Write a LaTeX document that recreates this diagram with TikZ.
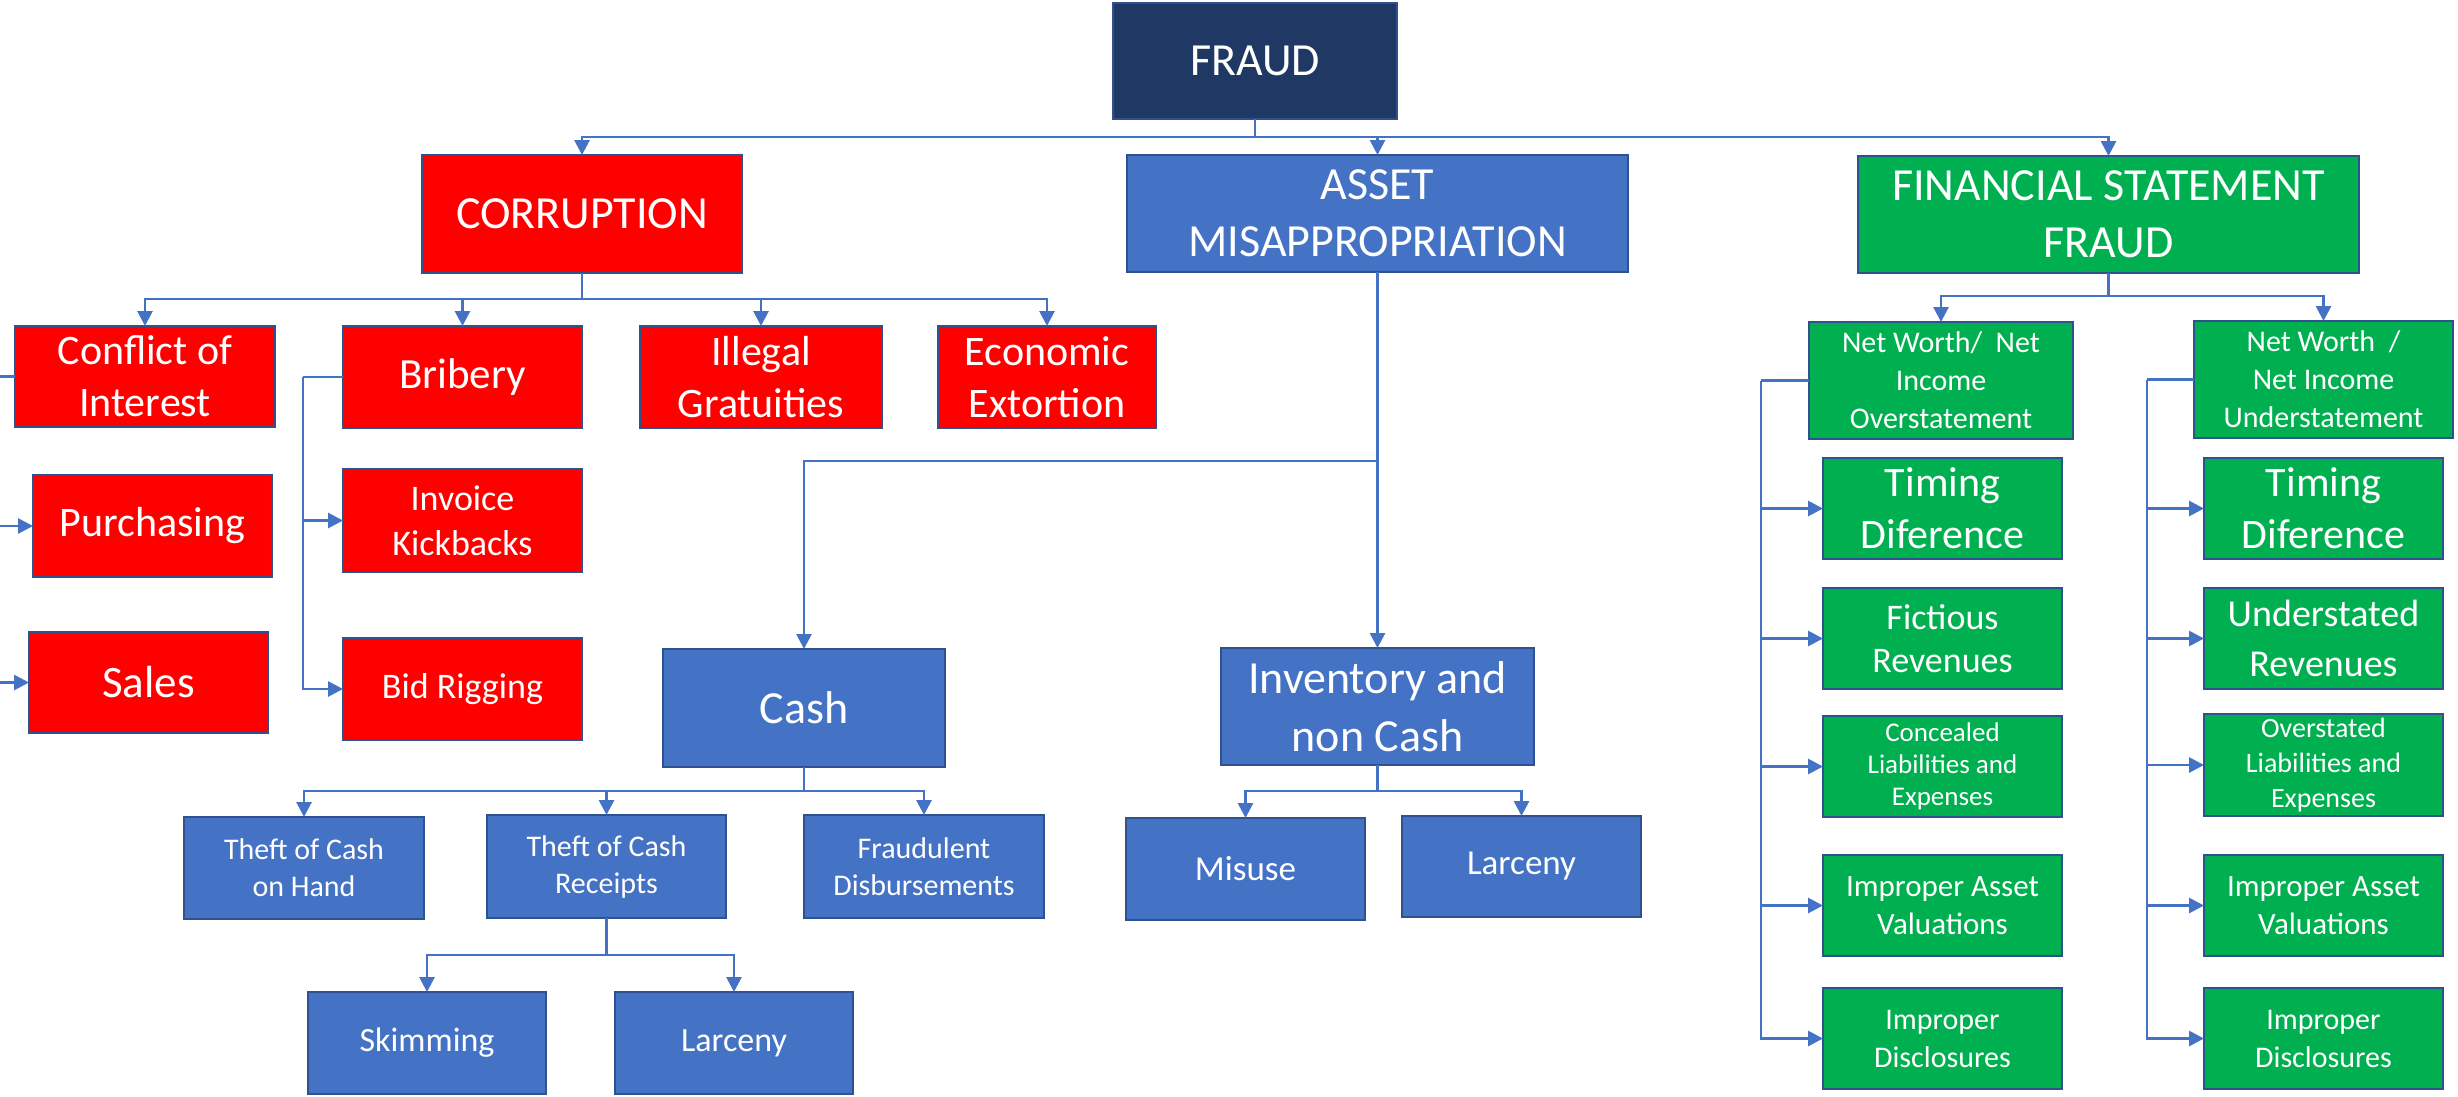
\documentclass[tikz,border=0pt]{standalone}
\usepackage{fontspec}
\setmainfont{Carlito}
\usetikzlibrary{arrows.meta}
\definecolor{navy}{HTML}{203864}
\definecolor{cred}{HTML}{FF0000}
\definecolor{cblue}{HTML}{4472C4}
\definecolor{cgreen}{HTML}{00B050}
\definecolor{bord}{HTML}{2F528F}
\definecolor{lineblue}{HTML}{4472C4}
\newcommand\fs[2]{\fontsize{#1}{#2}\selectfont}
\tikzset{
  box/.style={draw=bord, line width=2.6pt, text=white, align=center, inner sep=0pt, outer sep=0pt},
  redbox/.style={box, fill=cred},
  bluebox/.style={box, fill=cblue},
  greenbox/.style={box, fill=cgreen},
  navybox/.style={box, fill=navy},
  conn/.style={draw=lineblue, line width=2.8pt},
  arr/.style={conn, -{Triangle[width=15pt,length=15pt]}},
}
\begin{document}
\begin{tikzpicture}[x=1pt,y=-1pt]
\useasboundingbox (0,0) rectangle (2458,1096);

% top levels
\node[navybox, minimum width=284pt, minimum height=116pt, font=\fs{46}{56}] (fraud) at (1255,61) {FRAUD};
\node[redbox, minimum width=320pt, minimum height=118pt, font=\fs{46}{56}] (corr) at (582,214) {CORRUPTION};
\node[bluebox, minimum width=501pt, minimum height=117pt, font=\fs{46}{57}] (am) at (1377.5,213.5) {ASSET\\MISAPPROPRIATION};
\node[greenbox, minimum width=501pt, minimum height=117pt, font=\fs{46}{57}] (fsf) at (2108.5,214.5) {FINANCIAL STATEMENT\\FRAUD};

% corruption branch
\node[redbox, minimum width=260pt, minimum height=101pt, font=\fs{42}{52}] (coi) at (145,376.5) {Conflict of\\Interest};
\node[redbox, minimum width=239pt, minimum height=102pt, font=\fs{43}{52}] (bri) at (462.5,377) {Bribery};
\node[redbox, minimum width=242pt, minimum height=102pt, font=\fs{42}{52}] (ill) at (761,377) {Illegal\\Gratuities};
\node[redbox, minimum width=218pt, minimum height=102pt, font=\fs{42}{52}] (eco) at (1047,377) {Economic\\Extortion};
\node[redbox, minimum width=239pt, minimum height=102pt, font=\fs{42}{52}] (pur) at (152.5,526) {Purchasing};
\node[redbox, minimum width=239pt, minimum height=101pt, font=\fs{45}{52}] (sal) at (148.5,682.5) {Sales};
\node[redbox, minimum width=239pt, minimum height=103pt, font=\fs{36}{45}] (ikb) at (462.5,520.5) {Invoice\\Kickbacks};
\node[redbox, minimum width=239pt, minimum height=102pt, font=\fs{36}{45}] (bid) at (462.5,689) {Bid Rigging};

% asset misappropriation branch
\node[bluebox, minimum width=282pt, minimum height=118pt, font=\fs{46}{57}] (cash) at (804,708) {Cash};
\node[bluebox, minimum width=313pt, minimum height=117pt, font=\fs{46}{58}] (inc) at (1377.5,706.5) {Inventory and\\non Cash};
\node[bluebox, minimum width=240pt, minimum height=102pt, font=\fs{30}{37}] (toh) at (304,868) {Theft of Cash\\on Hand};
\node[bluebox, minimum width=239pt, minimum height=103pt, font=\fs{30}{37}] (tcr) at (606.5,866.5) {Theft of Cash\\Receipts};
\node[bluebox, minimum width=240pt, minimum height=103pt, font=\fs{30}{37}] (fd) at (924,866.5) {Fraudulent\\Disbursements};
\node[bluebox, minimum width=238pt, minimum height=102pt, font=\fs{34}{42}] (ski) at (427,1043) {Skimming};
\node[bluebox, minimum width=238pt, minimum height=102pt, font=\fs{34}{42}] (lar) at (734,1043) {Larceny};
\node[bluebox, minimum width=239pt, minimum height=102pt, font=\fs{35}{42}] (mis) at (1245.5,869) {Misuse};
\node[bluebox, minimum width=239pt, minimum height=101pt, font=\fs{35}{42}] (lar2) at (1521.5,866.5) {Larceny};

% financial statement fraud branch
\node[greenbox, minimum width=264pt, minimum height=117pt, font=\fs{30}{38}] (nwo) at (1941,380.5) {Net Worth/\ \ Net\\Income\\Overstatement};
\node[greenbox, minimum width=259pt, minimum height=117pt, font=\fs{30}{38}] (nwu) at (2323.5,379.5) {Net Worth\ \ /\\Net Income\\Understatement};

\node[greenbox, minimum width=239pt, minimum height=101pt, font=\fs{42}{52}] (tdl) at (1942.5,508.5) {Timing\\Diference};
\node[greenbox, minimum width=239pt, minimum height=101pt, font=\fs{36}{43}] (fic) at (1942.5,638.5) {Fictious\\Revenues};
\node[greenbox, minimum width=239pt, minimum height=101pt, font=\fs{27}{32}] (con) at (1942.5,766.5) {Concealed\\Liabilities and\\Expenses};
\node[greenbox, minimum width=239pt, minimum height=101pt, font=\fs{31}{38}] (iav) at (1942.5,905.5) {Improper Asset\\Valuations};
\node[greenbox, minimum width=239pt, minimum height=101pt, font=\fs{30}{38}] (idl) at (1942.5,1038.5) {Improper\\Disclosures};

\node[greenbox, minimum width=239pt, minimum height=101pt, font=\fs{42}{52}] (tdr) at (2323.5,508.5) {Timing\\Diference};
\node[greenbox, minimum width=239pt, minimum height=101pt, font=\fs{38}{50}] (und) at (2323.5,638.5) {Understated\\Revenues};
\node[greenbox, minimum width=239pt, minimum height=102pt, font=\fs{28}{35}] (ove) at (2323.5,765) {Overstated\\Liabilities and\\Expenses};
\node[greenbox, minimum width=239pt, minimum height=101pt, font=\fs{31}{38}] (iar) at (2323.5,905.5) {Improper Asset\\Valuations};
\node[greenbox, minimum width=239pt, minimum height=101pt, font=\fs{30}{38}] (idr) at (2323.5,1038.5) {Improper\\Disclosures};

% junction coordinates
\coordinate (fb) at (1255,137);
\coordinate (cb) at (582,299);
\coordinate (brv) at (303,377);
\coordinate (ab) at (1377.5,461);
\coordinate (cab) at (804,791);
\coordinate (rb) at (606.5,955);
\coordinate (ib) at (1377.5,791);
\coordinate (fsb) at (2108.5,296);
\coordinate (v1) at (1761,380.5);
\coordinate (v2) at (2147,379.5);
\coordinate (e1) at (0,376.5);
\coordinate (e2) at (0,526);
\coordinate (e3) at (0,682.5);

% connectors
\draw[conn] (fraud.south) -- (fb);
\draw[arr] (fb) -| (corr.north);
\draw[arr] (fb) -| (am.north);
\draw[arr] (fb) -| (fsf.north);

\draw[conn] (corr.south) -- (cb);
\draw[arr] (cb) -| (coi.north);
\draw[arr] (cb) -| (bri.north);
\draw[arr] (cb) -| (ill.north);
\draw[arr] (cb) -| (eco.north);

\draw[conn] (bri.west) -- (brv);
\draw[arr] (brv) |- (ikb.west);
\draw[arr] (brv) |- (bid.west);

\draw[conn] (coi.west) -- (e1);
\draw[arr] (e2) -- (pur.west);
\draw[arr] (e3) -- (sal.west);

\draw[arr] (am.south) -- (inc.north);
\draw[arr] (ab) -| (cash.north);

\draw[conn] (cash.south) -- (cab);
\draw[arr] (cab) -| (toh.north);
\draw[arr] (cab) -| (tcr.north);
\draw[arr] (cab) -| (fd.north);

\draw[conn] (tcr.south) -- (rb);
\draw[arr] (rb) -| (ski.north);
\draw[arr] (rb) -| (lar.north);

\draw[conn] (inc.south) -- (ib);
\draw[arr] (ib) -| (mis.north);
\draw[arr] (ib) -| (lar2.north);

\draw[conn] (fsf.south) -- (fsb);
\draw[arr] (fsb) -| (nwo.north);
\draw[arr] (fsb) -| (nwu.north);

\draw[conn] (nwo.west) -- (v1);
\draw[arr] (v1) |- (tdl.west);
\draw[arr] (v1) |- (fic.west);
\draw[arr] (v1) |- (con.west);
\draw[arr] (v1) |- (iav.west);
\draw[arr] (v1) |- (idl.west);

\draw[conn] (nwu.west) -- (v2);
\draw[arr] (v2) |- (tdr.west);
\draw[arr] (v2) |- (und.west);
\draw[arr] (v2) |- (ove.west);
\draw[arr] (v2) |- (iar.west);
\draw[arr] (v2) |- (idr.west);
\end{tikzpicture}
\end{document}
